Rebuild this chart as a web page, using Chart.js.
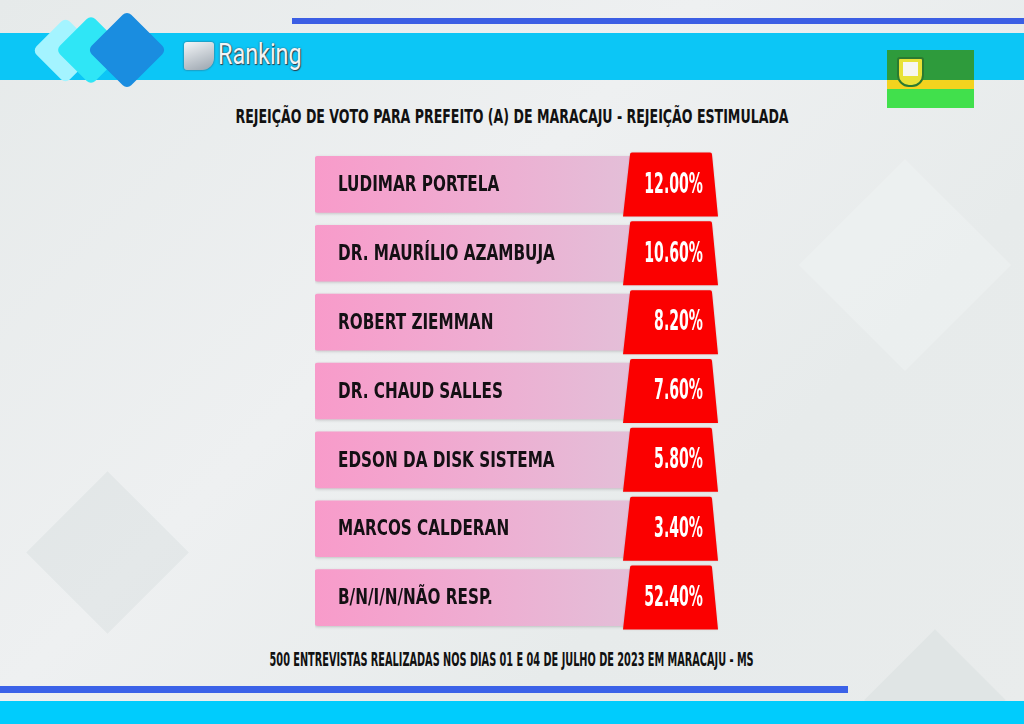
<!DOCTYPE html>
<html>
<head>
<meta charset="utf-8">
<script src="https://cdn.jsdelivr.net/npm/chart.js@4"></script>
<style>
  html, body { margin: 0; padding: 0; }
  body {
    width: 1024px; height: 724px; overflow: hidden; position: relative;
    background: linear-gradient(135deg, #e6eaea 0%, #eef0f1 40%, #e7ebeb 70%, #e9ecec 100%);
    font-family: "DejaVu Sans Condensed", "DejaVu Sans", sans-serif;
  }
  .abs { position: absolute; }
  .shape { position: absolute; background: rgba(210, 218, 218, 0.35); transform: rotate(45deg); }
  .topline { left: 292px; top: 18px; width: 732px; height: 6px; background: #3b5ee4; }
  .topband { left: 0; top: 33px; width: 1024px; height: 47px; background: #0cc6f6; }
  .botline { left: 0; top: 686px; width: 848px; height: 7px; background: #3b62e8; }
  .botband { left: 0; top: 701px; width: 1024px; height: 23px; background: #00ccfd; }
  .dia { position: absolute; transform: rotate(45deg); border-radius: 6px; }
  .logo { left: 218px; top: 36px; font-size: 30px; color: #f2f4f6; font-family: "Roboto", "Liberation Sans", sans-serif;
          text-shadow: 0 0 2px #3a4a58, 1px 1px 1px #2b3a48; transform: scaleX(0.78); transform-origin: left center; }
  .title, .footer { left: 0; width: 1024px; text-align: center; font-weight: bold; color: #111; white-space: nowrap; }
  .title span, .footer span { display: inline-block; }
  .title { top: 104px; font-size: 20px; }
  .footer { top: 648px; font-size: 19px; }
  canvas { position: absolute; left: 0; top: 0; }
</style>
</head>
<body>
<div class="shape" style="left:50px;top:495px;width:115px;height:115px;"></div>
<div class="shape" style="left:885px;top:650px;width:100px;height:100px;"></div>
<div class="shape" style="left:830px;top:190px;width:150px;height:150px;background:rgba(245,247,247,0.3);"></div>
<div class="abs topline"></div>
<div class="abs topband"></div>
<div class="abs botline"></div>
<div class="abs botband"></div>
<div class="dia" style="left:42px;top:27px;width:47px;height:47px;background:#a4f4ff;"></div>
<div class="dia" style="left:66px;top:25px;width:50px;height:50px;background:#2fe6f6;"></div>
<div class="dia" style="left:99px;top:22px;width:56px;height:56px;background:#1a8de0;"></div>
<div class="abs" style="left:184px;top:42px;width:30px;height:28px;background:linear-gradient(160deg,#f4f6f8,#9aa4ae);border-radius:3px 3px 12px 3px;box-shadow:0 0 2px #445;"></div>
<div class="abs logo">Ranking</div>
<div class="abs" style="left:887px;top:50px;width:87px;height:58px;">
  <div class="abs" style="left:0;top:0;width:87px;height:30px;background:#2e9b3c;"></div>
  <div class="abs" style="left:0;top:30px;width:87px;height:9px;background:#f4d31e;"></div>
  <div class="abs" style="left:0;top:39px;width:87px;height:19px;background:#41e04c;"></div>
  <div class="abs" style="left:10px;top:7px;width:27px;height:30px;background:#e8e236;border-radius:3px 3px 12px 12px;border:2px solid #2b7a30;box-sizing:border-box;"></div>
  <div class="abs" style="left:16px;top:12px;width:15px;height:14px;background:#f6f6f0;"></div>
</div>
<div class="abs title"><span style="transform:scaleX(0.7)">REJEIÇÃO DE VOTO PARA PREFEITO (A) DE MARACAJU - REJEIÇÃO ESTIMULADA</span></div>
<div class="abs footer"><span style="transform:scaleX(0.57)">500 ENTREVISTAS REALIZADAS NOS DIAS 01 E 04 DE JULHO DE 2023 EM MARACAJU - MS</span></div>
<canvas id="chart" width="1024" height="724"></canvas>
<script>
const categories = [
  "LUDIMAR PORTELA",
  "DR. MAURÍLIO AZAMBUJA",
  "ROBERT ZIEMMAN",
  "DR. CHAUD SALLES",
  "EDSON DA DISK SISTEMA",
  "MARCOS CALDERAN",
  "B/N/I/N/NÃO RESP."
];
const rejection = [12.0, 10.6, 8.2, 7.6, 5.8, 3.4, 52.4];

// layout of a row: name panel then value box (same width for every row)
const NAME_SPAN = 1;
const VALUE_SPAN = 0.3;

const FONT = '"DejaVu Sans Condensed", "DejaVu Sans", sans-serif';

function pinkFill(context) {
  const area = context.chart.chartArea;
  if (!area) return "#f0a8cc";
  const g = context.chart.ctx.createLinearGradient(area.left, 0, area.left + 320, 0);
  g.addColorStop(0, "#f89bca");
  g.addColorStop(0.55, "#eeaed2");
  g.addColorStop(1, "#e3bfd8");
  return g;
}

function condensedText(ctx, text, x, y, size, scaleX, align, color) {
  ctx.save();
  ctx.font = "bold " + size + "px " + FONT;
  ctx.fillStyle = color;
  ctx.textBaseline = "middle";
  ctx.textAlign = align;
  ctx.translate(x, y);
  ctx.scale(scaleX, 1);
  ctx.fillText(text, 0, 0);
  ctx.restore();
}

const rowPlugin = {
  id: "rowPlugin",
  beforeDatasetDraw(chart, args) {
    if (args.index === 0) {
      chart.ctx.save();
      chart.ctx.shadowColor = "rgba(0,0,0,0.18)";
      chart.ctx.shadowBlur = 3;
      chart.ctx.shadowOffsetY = 1;
    }
  },
  afterDatasetDraw(chart, args) {
    if (args.index === 0) chart.ctx.restore();
  },
  afterDatasetsDraw(chart) {
    const ctx = chart.ctx;
    // value boxes: trapezoids on top of the red bar elements
    const meta = chart.getDatasetMeta(1);
    meta.data.forEach((bar, i) => {
      const p = bar.getProps(["x", "y", "base", "height"], true);
      const top = p.y - p.height / 2;
      const bottom = p.y + p.height / 2;
      ctx.save();
      ctx.shadowColor = "rgba(0,0,0,0.15)";
      ctx.shadowBlur = 2;
      ctx.fillStyle = "#fb0000";
      ctx.beginPath();
      ctx.moveTo(p.base + 5, top + 2);
      ctx.quadraticCurveTo(p.base + 5, top, p.base + 7, top);
      ctx.lineTo(p.x - 8, top);
      ctx.quadraticCurveTo(p.x - 6, top, p.x - 6, top + 2);
      ctx.lineTo(p.x, bottom);
      ctx.lineTo(p.base - 2, bottom);
      ctx.closePath();
      ctx.fill();
      ctx.restore();
      condensedText(ctx, rejection[i].toFixed(2) + "%", p.x - 15, p.y + 1, 28, 0.56, "right", "#ffffff");
    });
    const names = chart.getDatasetMeta(0);
    names.data.forEach((bar, i) => {
      const p = bar.getProps(["y", "base"], true);
      condensedText(ctx, categories[i], p.base + 23, p.y + 1, 22, 0.77, "left", "#141014");
    });
  }
};

new Chart(document.getElementById("chart"), {
  type: "bar",
  data: {
    labels: categories,
    datasets: [
      {
        label: "Candidato",
        data: categories.map(() => [0, NAME_SPAN + 0.02]),
        backgroundColor: pinkFill,
        barThickness: 56,
        borderRadius: 3,
        borderSkipped: false
      },
      {
        label: "Rejeição",
        data: rejection.map(() => [NAME_SPAN, NAME_SPAN + VALUE_SPAN]),
        backgroundColor: "rgba(0,0,0,0)",
        barThickness: 64
      }
    ]
  },
  options: {
    indexAxis: "y",
    responsive: false,
    animation: false,
    grouped: false,
    layout: { padding: { left: 315, right: 306, top: 150, bottom: 92 } },
    scales: {
      x: { display: false, min: 0, max: NAME_SPAN + VALUE_SPAN },
      y: { display: false }
    },
    plugins: {
      legend: { display: false },
      tooltip: { enabled: false }
    }
  },
  plugins: [rowPlugin]
});
</script>
</body>
</html>
